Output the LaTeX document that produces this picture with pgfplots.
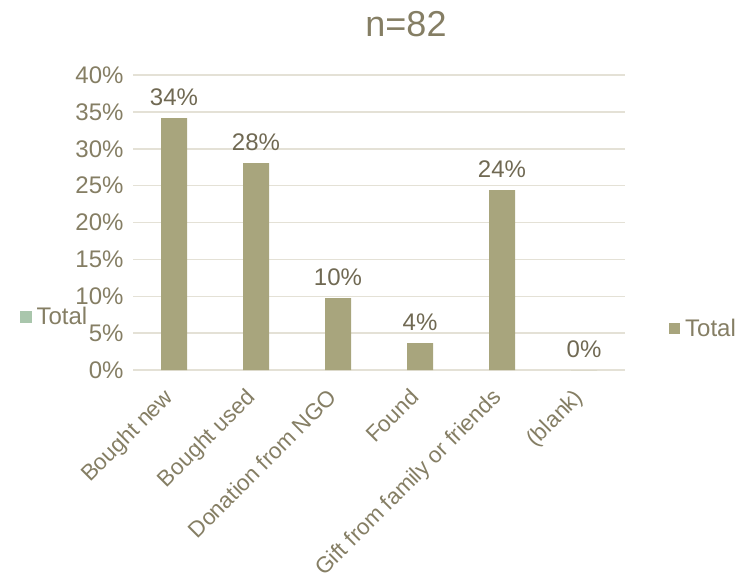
\documentclass[border=0pt]{standalone}
\usepackage{pgfplots}
\pgfplotsset{compat=1.18}
\usepackage{fontspec}
\setmainfont{Liberation Sans}
\definecolor{barc}{HTML}{A8A57D}
\definecolor{gridc}{HTML}{E4E1D6}
\definecolor{tickc}{HTML}{857E64}
\definecolor{labc}{HTML}{706953}
\definecolor{leftc}{HTML}{A9C6AC}
\begin{document}
\begin{tikzpicture}[x=1pt,y=1pt]
\path[use as bounding box] (0,0) rectangle (742,-588);
\node[text=tickc, font=\fontsize{36}{40}\selectfont, anchor=center] at (406,-24) {n=82};
\begin{axis}[
  at={(133pt,-370pt)}, anchor=south west,
  scale only axis, width=492pt, height=295pt,
  xmin=-0.5, xmax=5.5, ymin=0, ymax=40,
  ybar, bar width=26pt,
  xtick={0,1,2,3,4,5},
  xticklabels={Bought new,Bought used,Donation from NGO,Found,Gift from family or friends,(blank)},
  ytick={0,5,...,40},
  yticklabels={0\%,5\%,10\%,15\%,20\%,25\%,30\%,35\%,40\%},
  ymajorgrids, grid style={gridc, line width=1.5pt},
  axis x line*=bottom, axis y line*=left,
  x axis line style={gridc, line width=1.5pt, -},
  y axis line style={draw=none},
  major tick length=0pt,
  tick label style={text=tickc, font=\fontsize{24}{28}\selectfont},
  yticklabel style={xshift=-6pt},
  xticklabel style={rotate=45, anchor=north east, inner sep=0pt, xshift=-20pt, yshift=-4pt,
    font=\fontsize{22.5}{26}\selectfont},
  nodes near coords={\pgfmathprintnumber[fixed,precision=0,assume math mode=true]{\pgfplotspointmeta}\%},
  nodes near coords style={text=labc, font=\fontsize{24}{28}\selectfont, anchor=south, yshift=9pt},
  point meta=y,
  legend style={at={(1.0894,0.142)}, anchor=west, draw=none, fill=none, inner sep=0pt,
    font=\fontsize{24}{28}\selectfont, text=tickc, column sep=3pt},
  legend image code/.code={\fill[barc] (0pt,-5.5pt) rectangle (11pt,5.5pt);},
  legend cell align=left,
]
\addplot[fill=barc, draw=none] coordinates {(0,34.15) (1,28.05) (2,9.76) (3,3.66) (4,24.39) (5,0)};
\addlegendentry{Total}
\end{axis}
\begin{axis}[
  at={(133pt,-370pt)}, anchor=south west,
  scale only axis, width=492pt, height=295pt,
  xmin=0, xmax=1, ymin=0, ymax=1, hide axis,
  legend style={at={(-0.2297,0.18)}, anchor=west, draw=none, fill=none, inner sep=0pt,
    font=\fontsize{24}{28}\selectfont, text=tickc, column sep=3pt},
  legend image code/.code={\fill[leftc] (0pt,-5.5pt) rectangle (11pt,5.5pt);},
]
\addlegendimage{leftc}
\addlegendentry{Total}
\end{axis}
\end{tikzpicture}
\end{document}
